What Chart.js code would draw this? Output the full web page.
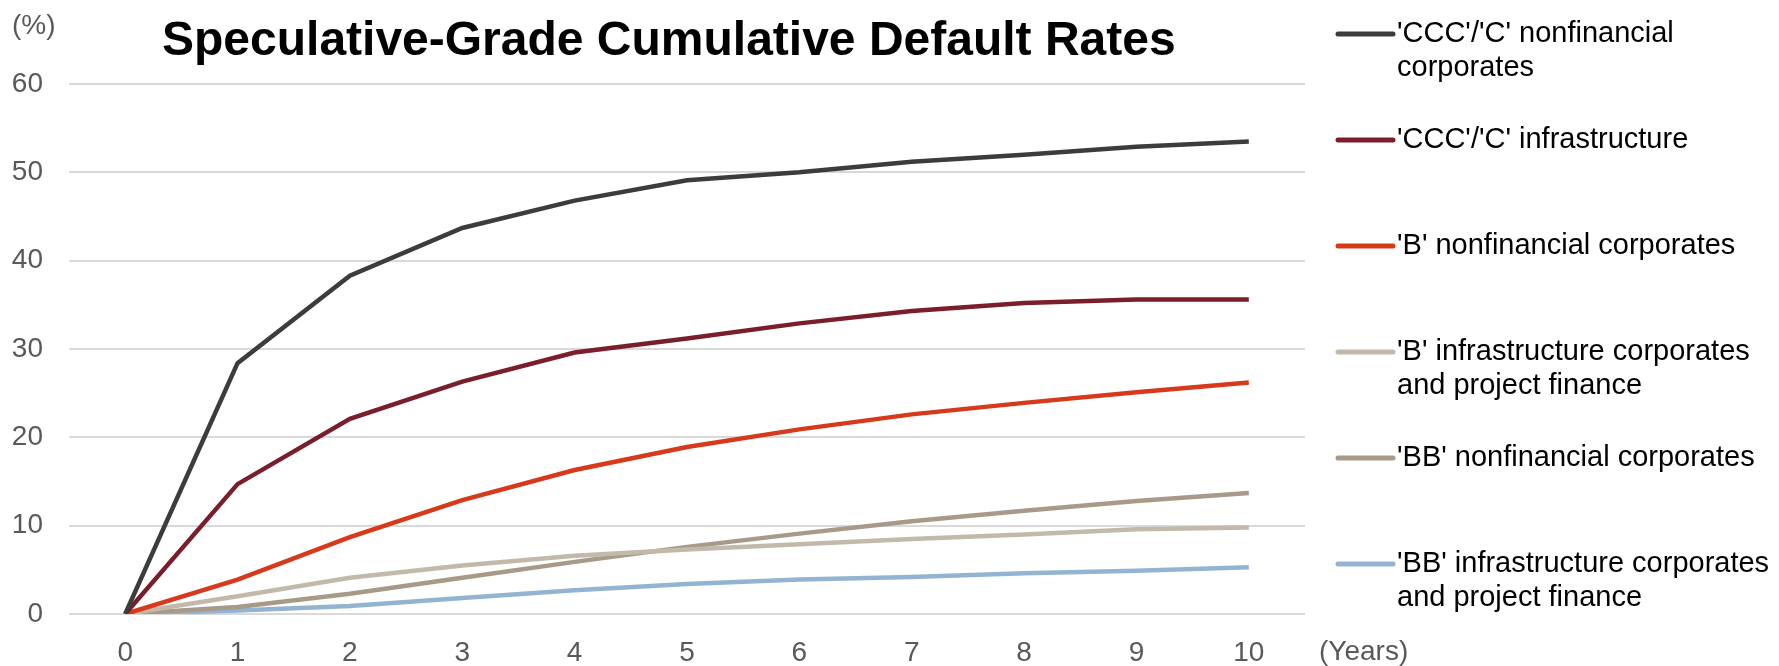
<!DOCTYPE html>
<html>
<head>
<meta charset="utf-8">
<title>Speculative-Grade Cumulative Default Rates</title>
<script src="https://cdn.jsdelivr.net/npm/chart.js@4/dist/chart.umd.min.js"></script>
<style>
  html, body { margin: 0; padding: 0; background: #ffffff; }
  #wrap { position: relative; width: 1779px; height: 666px; }
</style>
</head>
<body>
<div id="wrap"><canvas id="chart" width="1779" height="666"></canvas></div>
<script>
// Horizon in years since rating
const years = ['0', '1', '2', '3', '4', '5', '6', '7', '8', '9', '10'];

// Cumulative default rates (%)
const cccNonfinancial = [0, 28.4, 38.3, 43.7, 46.8, 49.1, 50.0, 51.2, 52.0, 52.9, 53.5];
const cccInfrastructure = [0, 14.7, 22.1, 26.3, 29.6, 31.2, 32.9, 34.3, 35.2, 35.6, 35.6];
const bNonfinancial = [0, 3.9, 8.7, 12.9, 16.3, 18.9, 20.9, 22.6, 23.9, 25.1, 26.2];
const bInfrastructure = [0, 2.0, 4.1, 5.5, 6.6, 7.3, 7.9, 8.5, 9.0, 9.6, 9.8];
const bbNonfinancial = [0, 0.8, 2.3, 4.1, 5.9, 7.6, 9.1, 10.5, 11.7, 12.8, 13.7];
const bbInfrastructure = [0, 0.4, 0.9, 1.8, 2.7, 3.4, 3.9, 4.2, 4.6, 4.9, 5.3];

// Legend labels, one line per array entry
const seriesNames = [
  ["'CCC'/'C' nonfinancial", 'corporates'],
  ["'CCC'/'C' infrastructure"],
  ["'B' nonfinancial corporates"],
  ["'B' infrastructure corporates", 'and project finance'],
  ["'BB' nonfinancial corporates"],
  ["'BB' infrastructure corporates", 'and project finance']
];

const yTicks = [0, 10, 20, 30, 40, 50, 60];
const titleText = 'Speculative-Grade Cumulative Default Rates';
const yUnit = '(%)';
const xUnit = '(Years)';

const seriesValues = [cccNonfinancial, cccInfrastructure, bNonfinancial, bInfrastructure, bbNonfinancial, bbInfrastructure];
const seriesColors = ['#3c3c3c', '#7a1e2c', '#d63a1a', '#c2b9ab', '#a89a88', '#93b4d1'];

const FONT = '"Liberation Sans", Arial, sans-serif';

// Title, unit captions and the legend on the right
const decorations = {
  id: 'decorations',
  afterDraw(chart) {
    const ctx = chart.ctx;
    ctx.save();
    ctx.textBaseline = 'middle';

    ctx.fillStyle = '#000000';
    ctx.font = 'bold 48px ' + FONT;
    ctx.textAlign = 'left';
    ctx.fillText(titleText, 162, 42);

    ctx.fillStyle = '#595959';
    ctx.font = '28px ' + FONT;
    ctx.fillText(yUnit, 12, 26);
    ctx.fillText(xUnit, 1319, 652);

    const lineX0 = 1338, lineX1 = 1393, textX = 1397;
    const firstY = 34, stepY = 106, lineGap = 34;
    ctx.font = '29px ' + FONT;
    chart.data.datasets.forEach((ds, i) => {
      const y = firstY + i * stepY;
      ctx.strokeStyle = ds.borderColor;
      ctx.lineWidth = 5;
      ctx.lineCap = 'round';
      ctx.beginPath();
      ctx.moveTo(lineX0, y);
      ctx.lineTo(lineX1, y);
      ctx.stroke();
      ctx.fillStyle = '#000000';
      ds.legendLines.forEach((t, k) => ctx.fillText(t, textX, y + k * lineGap));
    });
    ctx.restore();
  }
};

new Chart(document.getElementById('chart'), {
  type: 'line',
  data: {
    labels: years,
    datasets: seriesValues.map((vals, i) => ({
      label: seriesNames[i].join(' '),
      legendLines: seriesNames[i],
      data: vals,
      borderColor: seriesColors[i],
      backgroundColor: seriesColors[i],
      borderWidth: 4.5,
      pointRadius: 0,
      tension: 0,
      fill: false,
      order: i
    }))
  },
  options: {
    responsive: false,
    animation: false,
    devicePixelRatio: 1,
    layout: { padding: { top: 84, right: 474, bottom: 0, left: 0 } },
    plugins: { legend: { display: false }, title: { display: false }, tooltip: { enabled: false } },
    scales: {
      x: {
        type: 'category',
        offset: true,
        grid: { display: false, drawTicks: false },
        border: { display: false },
        ticks: { color: '#595959', font: { family: FONT, size: 28 }, padding: 22, maxRotation: 0, autoSkip: false },
        afterFit(scale) { scale.height = 52; }
      },
      y: {
        min: 0,
        max: 60,
        afterBuildTicks(scale) { scale.ticks = yTicks.map(v => ({ value: v })); },
        grid: { color: '#d9d9d9', lineWidth: 2, drawTicks: false },
        border: { display: false },
        ticks: { color: '#595959', font: { family: FONT, size: 28 }, padding: 26 },
        afterFit(scale) { scale.width = 69; }
      }
    }
  },
  plugins: [decorations]
});
</script>
</body>
</html>
